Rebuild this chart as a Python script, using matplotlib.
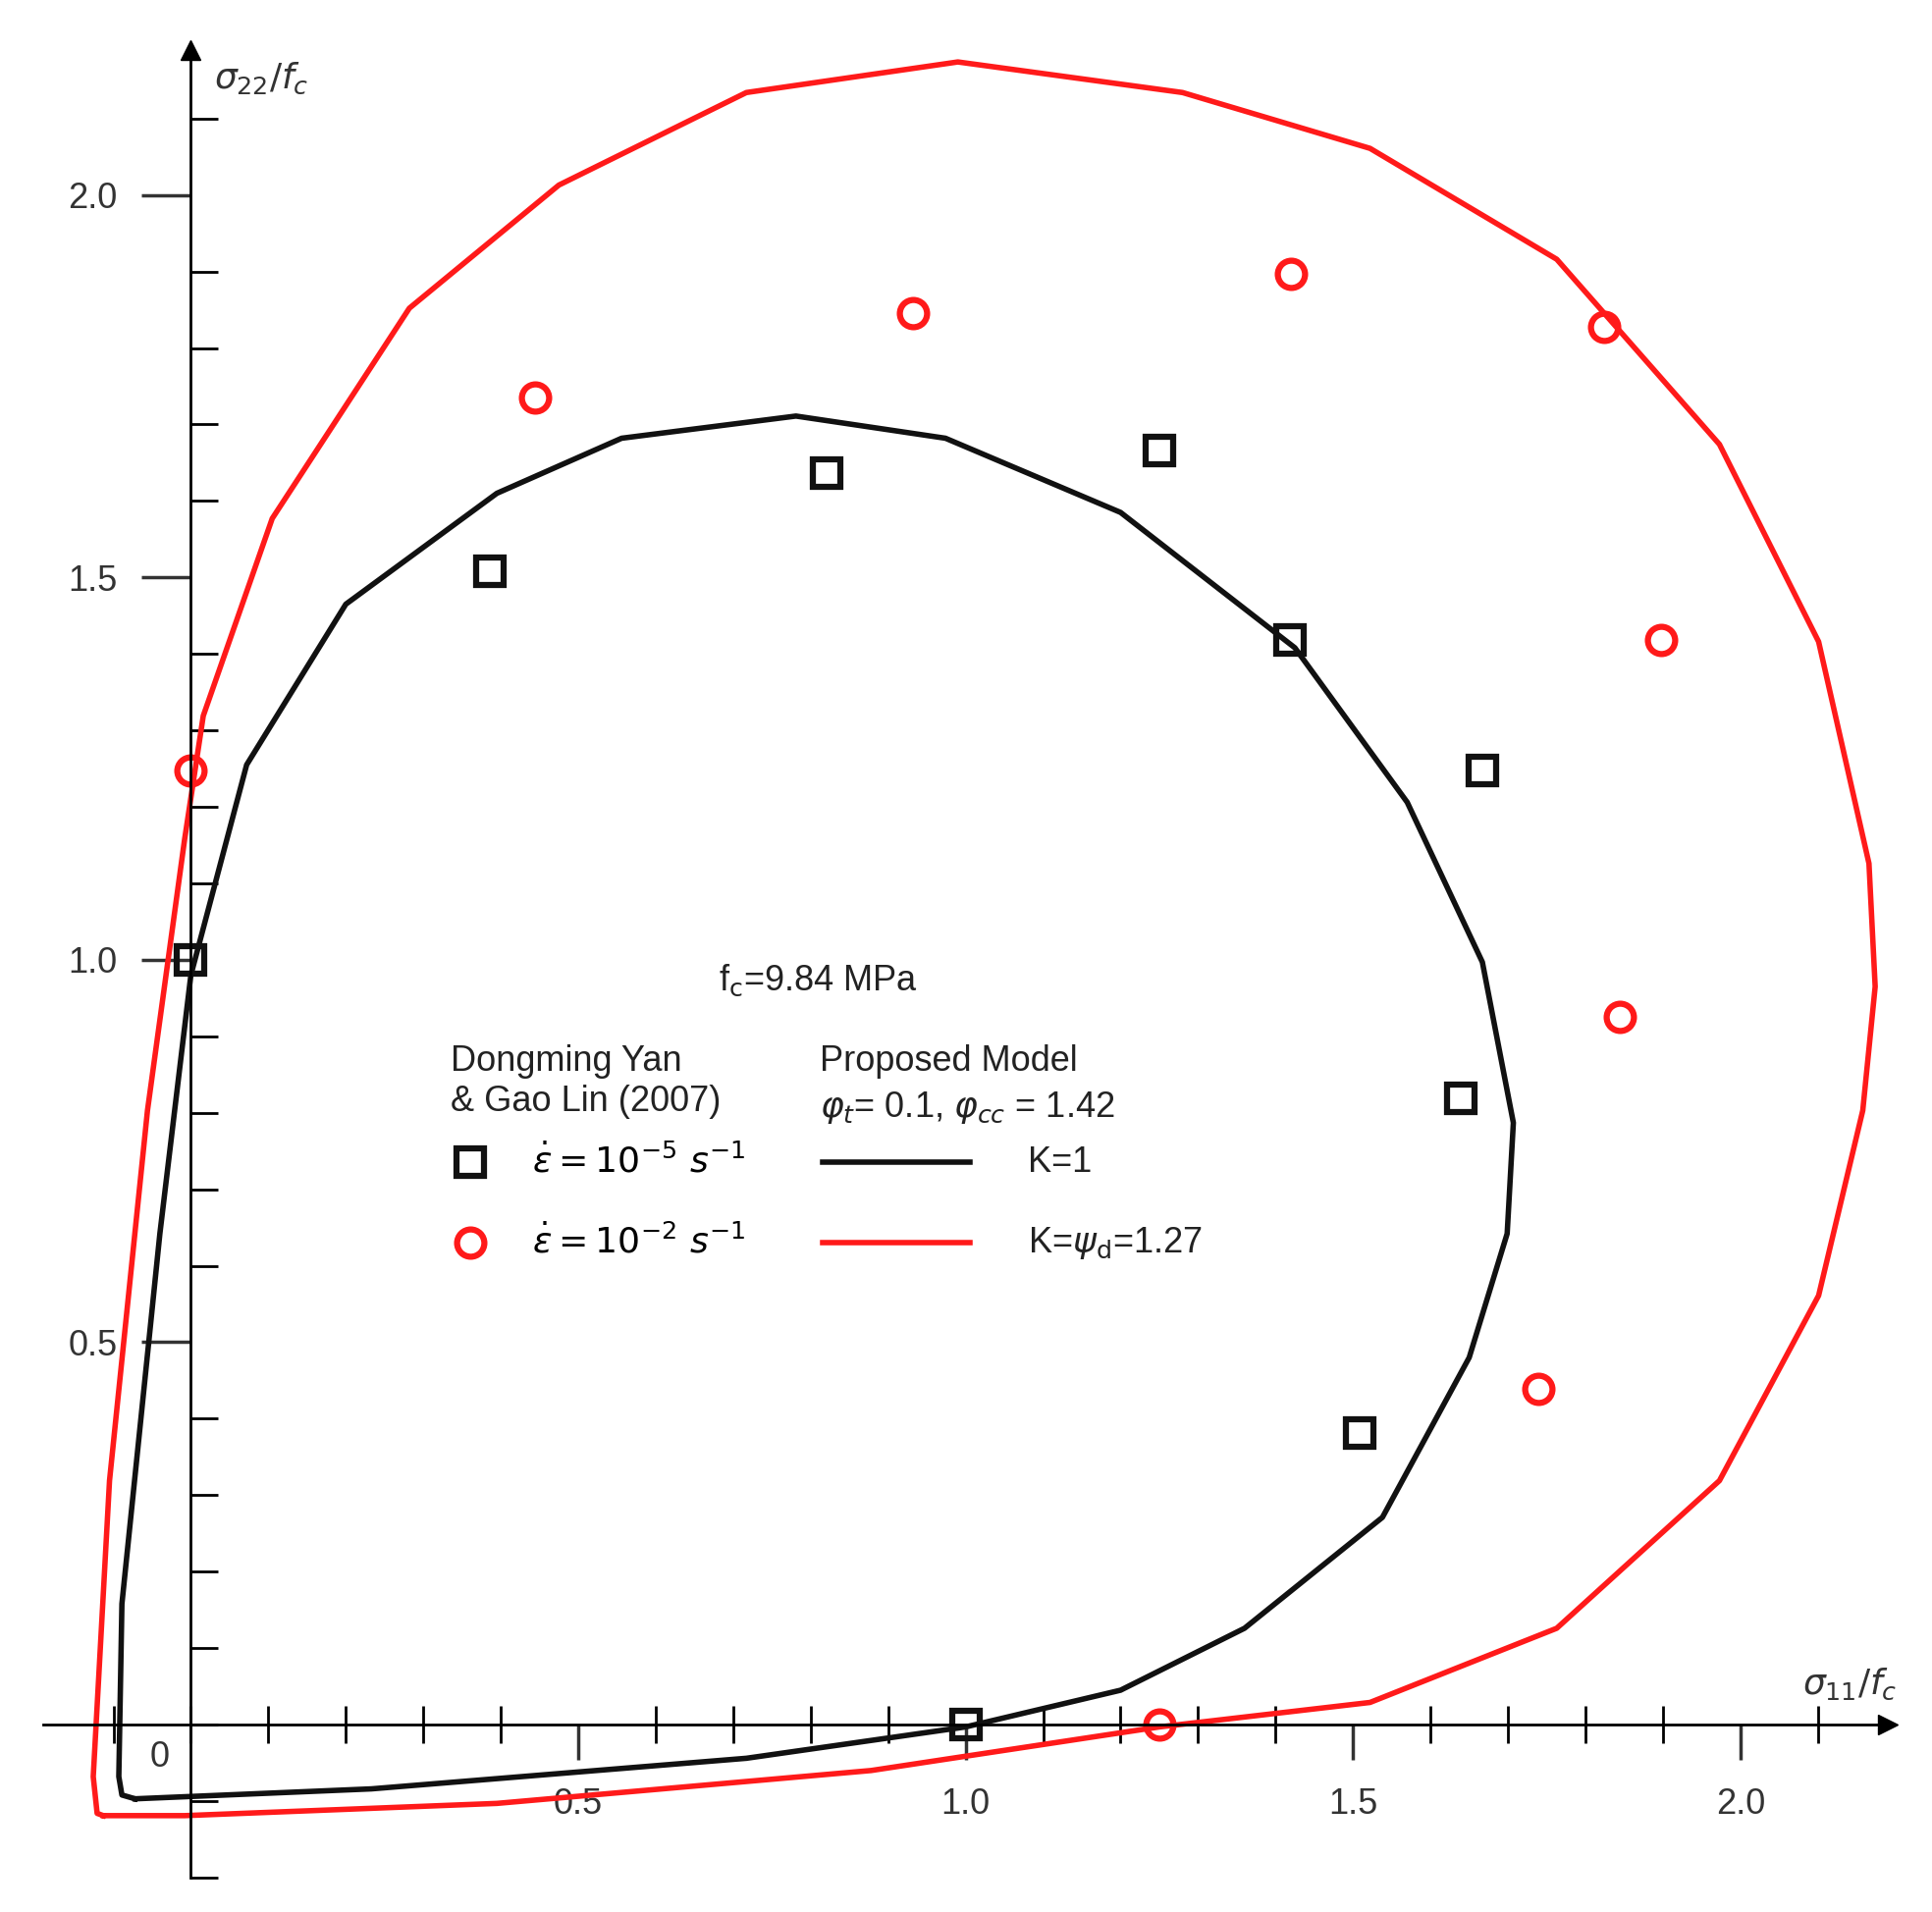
import matplotlib
matplotlib.use('Agg')
import matplotlib.pyplot as plt
from matplotlib.ticker import MultipleLocator
from matplotlib.lines import Line2D

# test data, Dongming Yan & Gao Lin (2007)
sq_x = [0.0, 0.386, 0.821, 1.25, 1.419, 1.667, 1.639, 1.509, 1.0]
sq_y = [1.0, 1.508, 1.637, 1.666, 1.418, 1.247, 0.819, 0.381, 0.0]
ci_x = [0.0, 0.444, 0.932, 1.42, 1.824, 1.897, 1.844, 1.739, 1.25]
ci_y = [1.247, 1.735, 1.845, 1.897, 1.827, 1.418, 0.926, 0.439, 0.0]

# proposed model, K=1
k1_x = [-0.072, -0.089, -0.093, -0.089, -0.04, 0.0, 0.072, 0.2, 0.395, 0.556, 0.781,
        0.974, 1.2, 1.425, 1.57, 1.667, 1.707, 1.699, 1.65, 1.538, 1.36, 1.2, 1.0,
        0.717, 0.233, -0.072]
k1_y = [-0.097, -0.092, -0.068, 0.158, 0.642, 0.98, 1.255, 1.465, 1.61, 1.682, 1.711,
        1.682, 1.585, 1.408, 1.206, 0.997, 0.787, 0.642, 0.48, 0.271, 0.126, 0.045,
        -0.003, -0.044, -0.084, -0.097]
# proposed model, K=psi_d=1.27
k2_x = [-0.113, -0.121, -0.126, -0.105, -0.056, -0.008, 0.016, 0.105, 0.282, 0.475,
        0.717, 0.99, 1.28, 1.522, 1.763, 1.973, 2.101, 2.166, 2.174, 2.158, 2.101,
        1.973, 1.763, 1.522, 1.25, 0.878, 0.395, -0.008, -0.113]
k2_y = [-0.119, -0.116, -0.068, 0.319, 0.803, 1.158, 1.319, 1.577, 1.852, 2.013,
        2.134, 2.174, 2.134, 2.061, 1.916, 1.674, 1.416, 1.126, 0.965, 0.803, 0.561,
        0.319, 0.126, 0.029, -0.003, -0.06, -0.103, -0.119, -0.119]

plt.rcParams['font.family'] = ['Liberation Sans', 'DejaVu Sans']
fs = 26

fig = plt.figure(figsize=(19.68, 19.48), dpi=100)
ax = fig.add_axes([0.0226, 0.018, 0.9544, 0.956])

ax.plot(k1_x, k1_y, color='#111111', lw=4)
ax.plot(k2_x, k2_y, color='#ff1a1a', lw=4)
ax.plot(sq_x, sq_y, 's', mfc='none', mec='#111111', mew=4.5, ms=20, clip_on=False)
ax.plot(ci_x, ci_y, 'o', mfc='none', mec='#ff1a1a', mew=4.5, ms=20, clip_on=False)

ax.set_xlim(-0.19, 2.19)
ax.set_ylim(-0.2, 2.19)
for s in ['top', 'right']:
    ax.spines[s].set_visible(False)
ax.spines['left'].set_position(('data', 0))
ax.spines['bottom'].set_position(('data', 0))
ax.spines['left'].set_linewidth(2)
ax.spines['bottom'].set_linewidth(2)
ax.plot(1, 0, '>', color='k', ms=14, transform=ax.get_yaxis_transform(), clip_on=False)
ax.plot(0, 1, '^', color='k', ms=14, transform=ax.get_xaxis_transform(), clip_on=False)

ax.xaxis.set_major_locator(MultipleLocator(0.5))
ax.xaxis.set_minor_locator(MultipleLocator(0.1))
ax.yaxis.set_major_locator(MultipleLocator(0.5))
ax.yaxis.set_minor_locator(MultipleLocator(0.1))
ax.tick_params(axis='x', which='major', direction='out', length=26, width=2.5,
               labelsize=fs, pad=20, colors='#333333')
ax.tick_params(axis='x', which='minor', direction='inout', length=28, width=2)
ax.tick_params(axis='y', which='major', direction='out', length=36, width=2.5,
               labelsize=fs, pad=18, colors='#333333')
ax.tick_params(axis='y', which='minor', direction='in', length=20, width=2)
ax.set_xticks([0.5, 1.0, 1.5, 2.0])
ax.set_xticklabels(['0.5', '1.0', '1.5', '2.0'])
ax.set_yticks([0.5, 1.0, 1.5, 2.0])
ax.set_yticklabels(['0.5', '1.0', '1.5', '2.0'])

ax.text(-0.04, -0.055, '0', fontsize=fs, color='#333333', ha='center')
ax.text(0.03, 2.14, r'$\sigma_{22}/f_c$', fontsize=fs, color='#333333')
ax.text(2.08, 0.04, r'$\sigma_{11}/f_c$', fontsize=fs, color='#333333')

ax.text(0.81, 0.96, r'f$_{\rm c}$=9.84 MPa', fontsize=fs, ha='center', color='#222222')
ax.text(0.335, 0.89, 'Dongming Yan\n& Gao Lin (2007)', fontsize=fs, va='top',
        linespacing=1.25, color='#222222')
ax.text(0.812, 0.89, 'Proposed Model', fontsize=fs, va='top', color='#222222')
ax.text(0.812, 0.83, r'$\varphi_t$= 0.1, $\varphi_{cc}$ = 1.42', fontsize=fs, va='top',
        color='#222222')
ax.plot([0.36], [0.735], 's', mfc='none', mec='#111111', mew=4.5, ms=20)
ax.plot([0.36], [0.63], 'o', mfc='none', mec='#ff1a1a', mew=4.5, ms=20)
ax.text(0.44, 0.735, r'$\dot{\varepsilon} = 10^{-5}\ s^{-1}$', fontsize=fs, va='center')
ax.text(0.44, 0.63, r'$\dot{\varepsilon} = 10^{-2}\ s^{-1}$', fontsize=fs, va='center')
ax.add_line(Line2D([0.815, 1.005], [0.735, 0.735], color='#111111', lw=4))
ax.add_line(Line2D([0.815, 1.005], [0.63, 0.63], color='#ff1a1a', lw=4))
ax.text(1.08, 0.735, 'K=1', fontsize=fs, va='center', color='#222222')
ax.text(1.08, 0.63, r'K=$\psi_{\rm d}$=1.27', fontsize=fs, va='center', color='#222222')

fig.savefig('out.png')
